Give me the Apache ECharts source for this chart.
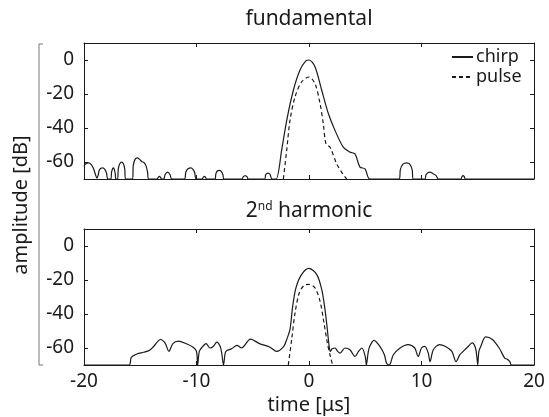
<!DOCTYPE html>
<html>
<head>
<meta charset="utf-8">
<script src="https://cdn.jsdelivr.net/npm/echarts@6/dist/echarts.min.js"></script>
<style>html,body{margin:0;padding:0;background:#fff;}#c{width:549px;height:417px;}</style>
</head>
<body>
<div id="c"></div>
<script>
// ---- data: [time (µs), amplitude (dB)] ----
const topChirp = [
  [-20,-62.5],[-19.85,-61],[-19.6,-60.5],[-19.35,-61.5],[-19.15,-64],[-18.95,-68],[-18.85,-69.5],
  [-18.75,-68],[-18.65,-65],[-18.5,-63.7],[-18.34,-63.5],[-18.15,-64.3],[-18.0,-66.5],[-17.88,-70],
  [-17.62,-70],[-17.55,-66],[-17.45,-63.8],[-17.38,-63.5],[-17.3,-64.5],[-17.22,-67],[-17.17,-70],
  [-17.02,-70],[-16.95,-64],[-16.82,-61],[-16.65,-60.1],[-16.5,-61],[-16.38,-64],[-16.3,-70],
  [-15.68,-70],[-15.62,-62],[-15.45,-58.3],[-15.26,-57.6],[-15.05,-58.5],[-14.85,-59.8],[-14.67,-60.3],
  [-14.5,-62],[-14.35,-66],[-14.25,-70],
  [-13.5,-70],[-13.4,-69],[-13.3,-68.4],[-13.2,-69],[-13.1,-70],
  [-12.9,-70],[-12.8,-67.5],[-12.56,-66],[-12.35,-67.5],[-12.2,-70],
  [-11.08,-70],[-10.95,-66],[-10.75,-64],[-10.5,-63.5],[-10.3,-64.5],[-10.15,-66.5],[-10.04,-70],
  [-9.5,-70],[-9.4,-69],[-9.3,-68.4],[-9.2,-69],[-9.1,-70],
  [-8.36,-70],[-8.28,-67],[-8.15,-65.3],[-7.97,-64.9],[-7.8,-65.5],[-7.65,-67.5],[-7.56,-70],
  [-5.95,-70],[-5.85,-68.8],[-5.67,-68],[-5.5,-68.8],[-5.4,-70],
  [-3.95,-70],[-3.85,-67.5],[-3.65,-66.5],[-3.45,-67.5],[-3.3,-70],
  [-2.93,-70],[-2.43,-53],[-1.98,-35.5],[-1.39,-17.8],[-0.8,-5.9],[-0.3,-0.7],[0,0],
  [0.53,-4],[1.13,-17.8],[1.72,-31.5],[2.31,-41.4],[3.05,-51.3],[3.64,-54.2],[4.09,-55.2],
  [4.53,-63],[4.98,-64],[5.42,-70],
  [8.03,-70],[8.12,-64.5],[8.35,-61.3],[8.68,-60.5],[8.95,-61.3],[9.17,-64.5],[9.27,-70],
  [10.3,-70],[10.4,-67.5],[10.6,-66.2],[10.76,-66],[11.0,-66.8],[11.3,-68],[11.5,-70],
  [13.5,-70],[13.6,-68.6],[13.7,-68],[13.8,-68.6],[13.9,-70],
  [20,-70]
];
const topPulse = [
  [-2.28,-70],[-1.98,-53],[-1.69,-35.5],[-1.24,-21.7],[-0.65,-12.8],[0,-10],
  [0.53,-13.8],[0.98,-25.6],[1.27,-37.5],[1.51,-49.3],[1.87,-51.3],[2.46,-61],[3.0,-67],[3.35,-70]
];
const bottomChirp = [
  [-20,-70],[-16.0,-70],[-15.8,-65.5],[-15.3,-63.5],[-14.7,-62.5],[-14.2,-61.5],[-13.8,-59],
  [-13.2,-55],[-12.8,-57],[-12.45,-62],[-12.1,-57.4],[-11.6,-56],[-10.9,-57.5],[-10.3,-59.5],
  [-10.0,-62],[-9.9,-70],[-9.75,-62],[-9.5,-59.5],[-9.15,-57.4],[-8.8,-60],[-8.5,-59],
  [-8.2,-56.5],[-7.9,-59],[-7.76,-63],[-7.6,-70],[-7.45,-63],[-7.3,-61.5],[-6.9,-60.5],
  [-6.4,-58.5],[-6.0,-60],[-5.2,-54.8],[-4.4,-57.4],[-3.5,-59.4],[-2.87,-62],[-2.24,-59],
  [-1.98,-55],[-1.69,-49.1],[-1.45,-35.4],[-1.16,-24.6],[-0.65,-16.7],[0,-13.2],
  [0.68,-16.7],[1.13,-25.5],[1.42,-37.3],[1.63,-49.1],[1.81,-60],[1.9,-62],[2.05,-60.5],
  [2.31,-60],[2.55,-62],[2.76,-63],[3.2,-60],[3.64,-61],[4.09,-65],[4.4,-62],[4.7,-60],
  [5.0,-65],[5.1,-70],[5.25,-63],[5.4,-59],[5.78,-55.5],[6.3,-59],[6.7,-64],[6.9,-69],
  [7.14,-70],[7.5,-64],[8.1,-60],[8.8,-58],[9.4,-60],[9.7,-65],[10.0,-60],[10.3,-59],
  [10.6,-63],[10.76,-68],[11.05,-61],[11.6,-58],[12.1,-59],[12.7,-62],[13.07,-68],[13.4,-64],
  [13.7,-62],[14.1,-59.4],[14.5,-57],[14.8,-60],[14.95,-67],[15.0,-70],[15.1,-62],[15.27,-59],
  [15.7,-53.5],[16.3,-55],[16.9,-60],[17.4,-66],[17.6,-66.5],[17.85,-68],[18.0,-70],[20,-70]
];
const bottomPulse = [
  [-1.84,-70],[-1.54,-55],[-1.24,-39.3],[-0.86,-27.5],[-0.44,-23.2],[0,-22.6],
  [0.53,-24.6],[0.98,-32.4],[1.33,-45.2],[1.63,-57],[1.93,-65.9],[2.1,-70]
];
const xTicks = [-20, -10, 0, 10, 20];
const yTicks = [0, -20, -40, -60];
const seriesNames = ['chirp', 'pulse'];
const panelTitles = ['fundamental', '2nd harmonic'];

const FONT = '"Noto Sans", "Open Sans", sans-serif';
const INK = '#1a1a1a';

const chart = echarts.init(document.getElementById('c'), null, {renderer: 'canvas'});

const grids = [
  {left: 84, right: 15, top: 43, height: 136},
  {left: 84, right: 15, top: 229, height: 136}
];

function xAx(gi, pos, labels) {
  return {
    type: 'value', gridIndex: gi, position: pos, min: xTicks[0], max: xTicks[xTicks.length-1], interval: 10,
    axisLine: {show: true, onZero: false, lineStyle: {color: INK, width: 1}},
    axisTick: {show: true, inside: true, length: 4, lineStyle: {color: INK}},
    axisLabel: {show: labels, margin: 7, color: INK, fontSize: 19, fontFamily: FONT},
    splitLine: {show: false},
    name: (labels ? 'time [μs]' : ''), nameLocation: 'middle', nameGap: 30,
    nameTextStyle: {color: INK, fontSize: 20, fontFamily: FONT}
  };
}
function yAx(gi, pos, labels) {
  return {
    type: 'value', gridIndex: gi, position: pos, min: -70, max: 10,
    axisLine: {show: true, onZero: false, lineStyle: {color: INK, width: 1}},
    axisTick: {show: true, inside: true, length: 4, customValues: yTicks, lineStyle: {color: INK}},
    axisLabel: {show: labels, margin: 10, color: INK, fontSize: 19, fontFamily: FONT, customValues: yTicks},
    splitLine: {show: false}
  };
}

function line(name, data, xi, yi, dashed) {
  return {
    type: 'line', name: name, data: data, xAxisIndex: xi, yAxisIndex: yi,
    symbol: 'none', smooth: 0.3, clip: true, silent: true,
    lineStyle: {color: INK, width: 1.2, type: dashed ? [4, 3] : 'solid'},
    itemStyle: {color: INK}
  };
}

const option = {
  animation: false,
  backgroundColor: '#fff',
  textStyle: {fontFamily: FONT},
  title: [
    {text: panelTitles[0], left: 309, top: 9, textAlign: 'center', padding: 0,
     textStyle: {fontSize: 21, fontWeight: 'normal', color: INK, fontFamily: FONT}},
    {text: '{a|2}{s|nd}{a| harmonic}', left: 309, top: 201, textAlign: 'center', padding: 0,
     textStyle: {fontSize: 21, fontWeight: 'normal', color: INK, fontFamily: FONT,
       rich: {a: {fontSize: 21, color: INK, fontFamily: FONT},
              s: {fontSize: 12, color: INK, fontFamily: FONT, verticalAlign: 'top'}}}}
  ],
  legend: {
    data: seriesNames, orient: 'vertical', left: 451, top: 48, itemWidth: 21, itemHeight: 14, itemGap: 2,
    padding: 0, selectedMode: false,
    itemStyle: {opacity: 0},
    textStyle: {fontSize: 18, color: INK, fontFamily: FONT, padding: [0,0,0,-2]}
  },
  grid: grids,
  xAxis: [xAx(0, 'bottom', false), xAx(0, 'top', false), xAx(1, 'bottom', true), xAx(1, 'top', false)],
  yAxis: [yAx(0, 'left', true), yAx(0, 'right', false), yAx(1, 'left', true), yAx(1, 'right', false)],
  series: [
    line(seriesNames[0], topChirp, 0, 0, false),
    line(seriesNames[1], topPulse, 0, 0, true),
    line(seriesNames[0], bottomChirp, 2, 2, false),
    line(seriesNames[1], bottomPulse, 2, 2, true)
  ],
  graphic: [
    {type: 'text', x: 21, y: 205, rotation: Math.PI / 2,
     style: {text: 'amplitude [dB]', fill: INK, fontSize: 20, fontFamily: FONT, textAlign: 'center', textVerticalAlign: 'middle'}},
    {type: 'polyline', silent: true,
     shape: {points: [[43, 44], [39, 44], [39, 365], [43, 365]]},
     style: {stroke: '#777', lineWidth: 1, fill: null}}
  ]
};
chart.setOption(option);
</script>
</body>
</html>
